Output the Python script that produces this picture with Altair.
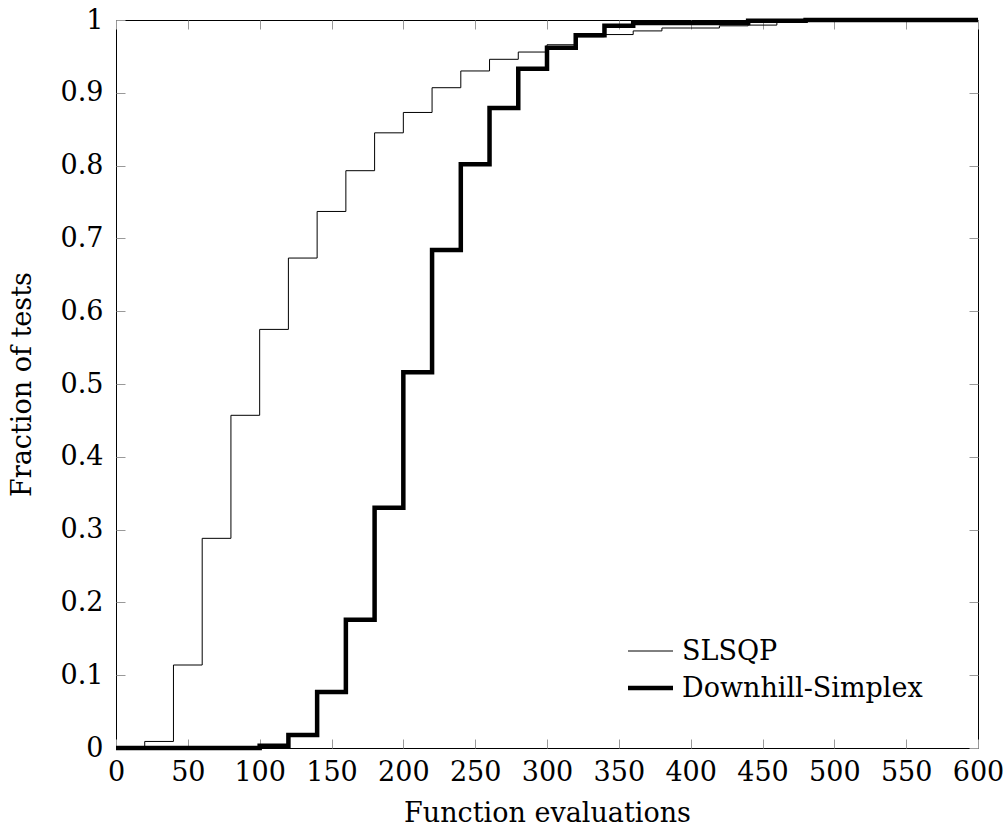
import altair as alt
import pandas as pd

# Data: fraction of tests solved within x function evaluations (step after each bin start)
x_bins = list(range(0, 620, 20))  # 0..600
slsqp = [0.0, 0.009, 0.114, 0.288, 0.457, 0.575, 0.673, 0.737, 0.793, 0.845,
         0.873, 0.907, 0.930, 0.946, 0.956, 0.966, 0.977, 0.980, 0.985, 0.989,
         0.989, 0.992, 0.993, 0.998, 1.0, 1.0, 1.0, 1.0, 1.0, 1.0, 1.0]
simplex = [0.0, 0.0, 0.0, 0.0, 0.0, 0.003, 0.018, 0.077, 0.176, 0.330,
           0.516, 0.684, 0.802, 0.879, 0.933, 0.962, 0.979, 0.992, 0.996, 0.996,
           0.996, 0.996, 0.999, 0.999, 1.0, 1.0, 1.0, 1.0, 1.0, 1.0, 1.0]
names = ["SLSQP", "Downhill-Simplex"]
x_ticks = list(range(0, 650, 50))
y_ticks = [round(i * 0.1, 1) for i in range(11)]

df1 = pd.DataFrame({"x": x_bins, "y": slsqp, "name": names[0]})
df2 = pd.DataFrame({"x": x_bins, "y": simplex, "name": names[1]})

FONT = "DejaVu Serif"
FS = 27
TICK = 9

xscale = alt.Scale(domain=[0, 600], nice=False, zero=False)
yscale = alt.Scale(domain=[0, 1], nice=False)

common_axis = dict(domain=False, grid=False, tickSize=TICK, offset=-TICK,
                   tickColor="#999999", tickWidth=1,
                   labelFont=FONT, labelFontSize=FS, labelColor="black",
                   titleFont=FONT, titleFontSize=FS, titleColor="black",
                   titleFontWeight="normal")

x_bottom = alt.Axis(orient="bottom", values=x_ticks, title="Function evaluations",
                    labelPadding=11, titlePadding=15, labelFlush=False, **common_axis)
y_left = alt.Axis(orient="left", values=y_ticks, format="~g", title="Fraction of tests",
                  labelPadding=13, titlePadding=24, labelFlush=False, **common_axis)
x_top = alt.Axis(orient="top", values=x_ticks, labels=False, title=None, **common_axis)
y_right = alt.Axis(orient="right", values=y_ticks, labels=False, title=None, **common_axis)

line1 = alt.Chart(df1).mark_line(interpolate="step-after", color="black", strokeWidth=1).encode(
    x=alt.X("x:Q", scale=xscale, axis=x_bottom),
    y=alt.Y("y:Q", scale=yscale, axis=y_left),
)
line2 = alt.Chart(df2).mark_line(interpolate="step-after", color="black", strokeWidth=4.5).encode(
    x=alt.X("x:Q", scale=xscale, axis=x_top),
    y=alt.Y("y:Q", scale=yscale, axis=y_right),
)

one = pd.DataFrame({"k": [0]})
leg_rule1 = alt.Chart(one).mark_rule(color="black", strokeWidth=1).encode(
    x=alt.value(512), x2=alt.value(557), y=alt.value(631))
leg_rule2 = alt.Chart(one).mark_rule(color="black", strokeWidth=4.5).encode(
    x=alt.value(512), x2=alt.value(557), y=alt.value(668))
leg_text1 = alt.Chart(one).mark_text(font=FONT, fontSize=FS, align="left",
                                     baseline="alphabetic", color="black").encode(
    x=alt.value(566), y=alt.value(640), text=alt.value(names[0]))
leg_text2 = alt.Chart(one).mark_text(font=FONT, fontSize=FS, align="left",
                                     baseline="alphabetic", color="black").encode(
    x=alt.value(566), y=alt.value(677), text=alt.value(names[1]))

chart = alt.layer(line1, line2, leg_rule1, leg_rule2, leg_text1, leg_text2).resolve_axis(
    x="independent", y="independent"
).properties(
    width=862, height=728,
    autosize=alt.AutoSizeParams(type="none"),
    padding={"left": 116, "top": 20, "right": 29, "bottom": 81},
    background="white",
).configure_view(stroke="black", strokeWidth=1)

chart.save("out.html", embed_options={"renderer": "svg", "actions": False})
